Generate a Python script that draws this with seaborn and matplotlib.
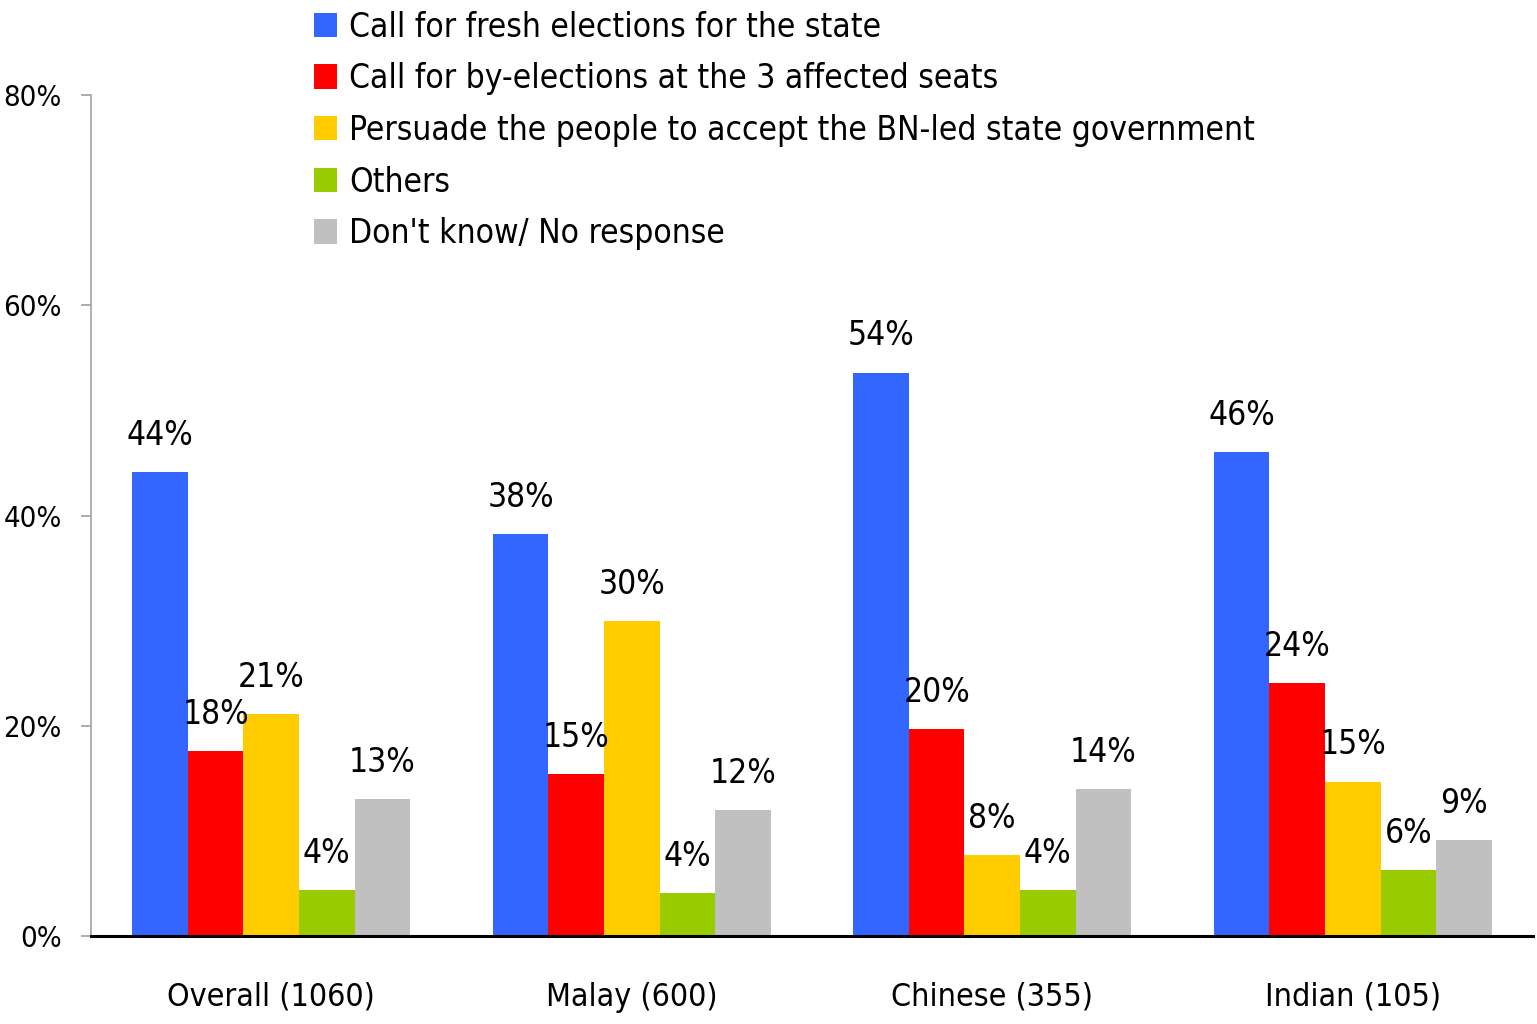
import pandas as pd
import matplotlib.pyplot as plt
import seaborn as sns

# groups (sample size in brackets)
groups = ['Overall (1060)', 'Malay (600)', 'Chinese (355)', 'Indian (105)']
answers = ['Call for fresh elections for the state',
           'Call for by-elections at the 3 affected seats',
           'Persuade the people to accept the BN-led state government',
           'Others',
           "Don't know/ No response"]

# percentages
fresh = [44.1, 38.2, 53.6, 46.0]
by_elec = [17.6, 15.4, 19.7, 24.1]
persuade = [21.1, 30.0, 7.7, 14.7]
others = [4.4, 4.1, 4.4, 6.3]
dont_know = [13.0, 12.0, 14.0, 9.1]

colours = ['#3366FF', '#FF0000', '#FFCC00', '#99CC00', '#C0C0C0']

rows = []
for ans, vals in zip(answers, [fresh, by_elec, persuade, others, dont_know]):
    for g, v in zip(groups, vals):
        rows.append({'group': g, 'answer': ans, 'pct': v})
df = pd.DataFrame(rows)

sns.set_style('white')
plt.rcParams['font.family'] = ['DejaVu Sans']
plt.rcParams['font.stretch'] = 'condensed'
plt.rcParams['text.color'] = 'black'
plt.rcParams['xtick.color'] = 'black'
plt.rcParams['ytick.color'] = 'black'

fig = plt.figure(figsize=(15.37, 10.24), dpi=100)
ax = fig.add_axes([0.0592, 0.0859, 0.9382, 0.8213])

sns.barplot(data=df, x='group', y='pct', hue='answer', order=groups,
            hue_order=answers, palette=colours, width=0.77, saturation=1,
            linewidth=0, ax=ax, legend=True)

# value labels
for cont in ax.containers:
    for bar in cont:
        h = bar.get_height()
        ax.annotate(f'{h:.0f}%', (bar.get_x() + bar.get_width() / 2, h),
                    xytext=(0, 19.5), textcoords='offset points',
                    ha='center', va='baseline', fontsize=24)

ax.set_ylim(0, 80)
ax.set_xlim(-0.5, 3.5)
ax.set_yticks([0, 20, 40, 60, 80])
ax.set_yticklabels(['0%', '20%', '40%', '60%', '80%'], fontsize=21)
ax.tick_params(axis='y', left=True, length=7, width=1.2, color='#A0A0A0',
               labelcolor='black', pad=14)
ax.tick_params(axis='x', length=0, labelsize=23, labelcolor='black', pad=33)
ax.set_xlabel('')
ax.set_ylabel('')

for s in ['top', 'right']:
    ax.spines[s].set_visible(False)
ax.spines['left'].set_color('#A0A0A0')
ax.spines['left'].set_linewidth(1.2)
ax.spines['bottom'].set_color('black')
ax.spines['bottom'].set_linewidth(2.2)

ax.legend(loc='upper left', bbox_to_anchor=(0.202, 0.993), bbox_transform=fig.transFigure,
          frameon=False, fontsize=24, handlelength=0.7, handleheight=0.75,
          handletextpad=0.35, labelspacing=0.56, borderaxespad=0, borderpad=0.1,
          labelcolor='black')

fig.savefig('out.png', dpi=100)
